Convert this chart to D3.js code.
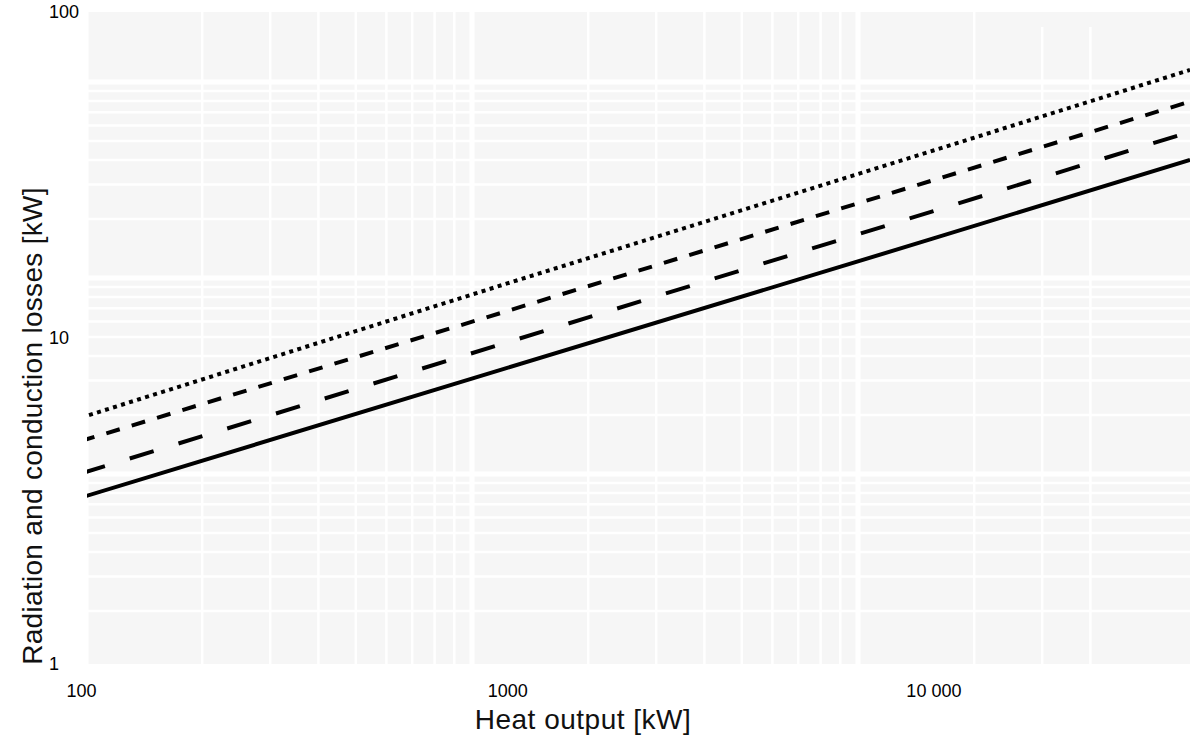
<!DOCTYPE html>
<html lang="en">
<head>
  <meta charset="UTF-8">
  <title>Radiation and conduction losses</title>
  <style>
    body { margin: 0; background: #fff; }
    svg { display: block; font-family: "Liberation Sans", Arial, sans-serif; }
  </style>
  <script src="https://d3js.org/d3.v7.min.js"></script>
</head>
<body>
<script>
// data (kW)
var heatOutput = [100, 1000, 10000, 40000];
var lossSolid     = [3.24, 8.1, 20.2, 35.2];
var lossLongDash  = [3.84, 9.7, 24.5, 42.9];
var lossShortDash = [4.83, 12.1, 30.5, 53.1];
var lossDotted    = [5.70, 14.7, 37.6, 66.4];

var xTicks = [100, 1000, 10000];
var yTicks = [1, 10, 100];

// background grid paper (its own log spacing, not the axis)
var gridXValues = [100, 200, 300, 400, 500, 600, 700, 800, 900,
                   1000, 2000, 3000, 4000, 5000, 6000, 7000, 8000, 9000,
                   10000, 20000, 30000, 40000];
var gridYValues = [2, 3, 4, 5, 6, 7, 8, 9,
                   10, 20, 30, 40, 50, 60, 70, 80, 90,
                   100, 200, 300, 400, 500, 600, 700, 800, 900, 1000];

var width = 1200, height = 744;
var plotLeft = 87, plotRight = 1190, plotTop = 12, plotBottom = 664;

var svg = d3.select("body").append("svg")
  .attr("width", width)
  .attr("height", height);

var x = d3.scaleLog().domain([100, 40000]).range([81, 1190]);
var y = d3.scaleLog().domain([1, 100]).range([plotBottom, plotTop]);

// grid scales: decade of 386px horizontally, 196px vertically
var gx = d3.scaleLog().domain([100, 1000]).range([86, 472]);
var gy = d3.scaleLog().domain([10, 100]).range([474, 278]);

function isDecade(v) {
  var l = Math.log10(v);
  return Math.abs(l - Math.round(l)) < 1e-9;
}

svg.append("defs").append("clipPath").attr("id", "plot")
  .append("rect")
  .attr("x", plotLeft).attr("y", plotTop)
  .attr("width", plotRight - plotLeft).attr("height", plotBottom - plotTop);

var plot = svg.append("g").attr("clip-path", "url(#plot)");

plot.append("rect")
  .attr("x", plotLeft).attr("y", plotTop)
  .attr("width", plotRight - plotLeft).attr("height", plotBottom - plotTop)
  .attr("fill", "#f6f6f6");

plot.append("g").selectAll("line")
  .data(gridYValues)
  .join("line")
  .attr("x1", plotLeft).attr("x2", plotRight)
  .attr("y1", function (d) { return gy(d); })
  .attr("y2", function (d) { return gy(d); })
  .attr("stroke", "#fff")
  .attr("stroke-width", function (d) { return isDecade(d) ? 5 : 2.5; });

plot.append("g").selectAll("line")
  .data(gridXValues)
  .join("line")
  .attr("x1", function (d) { return gx(d); })
  .attr("x2", function (d) { return gx(d); })
  .attr("y1", function (d) { return d >= 30000 ? 27 : plotTop; })
  .attr("y2", plotBottom)
  .attr("stroke", "#fff")
  .attr("stroke-width", function (d) { return isDecade(d) ? 5 : 2.5; });

var series = [
  { values: lossSolid, dash: null },
  { values: lossLongDash, dash: "25,26" },
  { values: lossShortDash, dash: "14,12.5" },
  { values: lossDotted, dash: "4,4.4" }
];

var line = d3.line()
  .x(function (d) { return x(d[0]); })
  .y(function (d) { return y(d[1]); });

plot.append("g").selectAll("path")
  .data(series)
  .join("path")
  .attr("d", function (s) { return line(d3.zip(heatOutput, s.values)); })
  .attr("fill", "none")
  .attr("stroke", "#000")
  .attr("stroke-width", 4)
  .attr("stroke-dasharray", function (s) { return s.dash; });

// axes
var fmt = function (d) {
  return d >= 10000 ? d3.format(",")(d).replace(/,/g, " ") : String(d);
};

var xAxis = svg.append("g")
  .attr("transform", "translate(0," + plotBottom + ")")
  .call(d3.axisBottom(x).tickValues(xTicks).tickFormat(fmt).tickSize(0).tickPadding(20));
xAxis.select(".domain").remove();
xAxis.selectAll("text")
  .attr("font-size", 18)
  .attr("font-family", "Liberation Sans, Arial, sans-serif")
  .attr("fill", "#000");

var yAxis = svg.append("g")
  .call(d3.axisLeft(y).tickValues(yTicks).tickFormat(fmt).tickSize(0));
yAxis.select(".domain").remove();
yAxis.selectAll("text")
  .attr("x", 49)
  .attr("text-anchor", "start")
  .attr("font-size", 18)
  .attr("font-family", "Liberation Sans, Arial, sans-serif")
  .attr("fill", "#000");

svg.append("text")
  .attr("x", 583).attr("y", 729)
  .attr("text-anchor", "middle")
  .attr("font-size", 28)
  .attr("letter-spacing", 0.5)
  .attr("fill", "#111")
  .text("Heat output [kW]");

svg.append("text")
  .attr("transform", "translate(42,426) rotate(-90)")
  .attr("text-anchor", "middle")
  .attr("font-size", 28)
  .attr("letter-spacing", 0.3)
  .attr("fill", "#111")
  .text("Radiation and conduction losses [kW]");
</script>
</body>
</html>
